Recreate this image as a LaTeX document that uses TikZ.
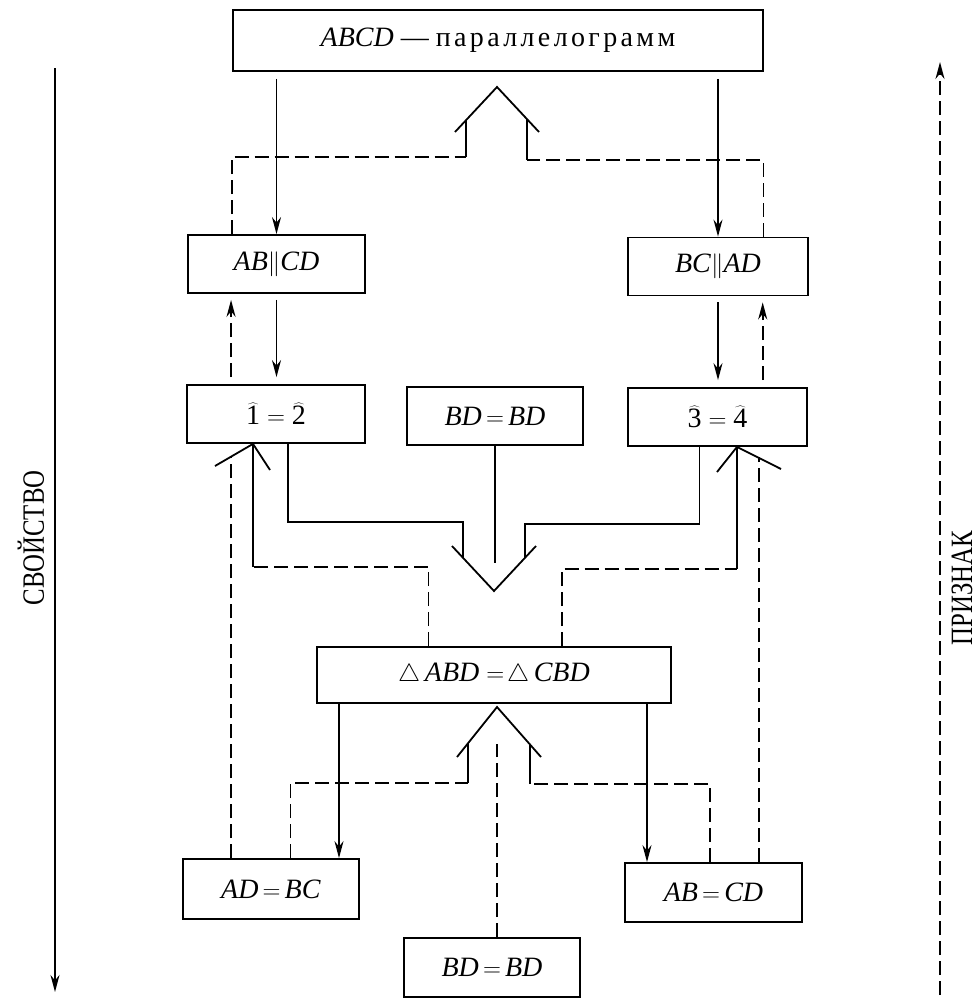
\documentclass[tikz,border=0pt]{standalone}
\usepackage{fontspec}
\setmainfont{Liberation Serif}
\newfontfamily\spaced[LetterSpace=12]{Liberation Serif}
\usetikzlibrary{arrows.meta,calc}

\newcommand{\vr}[1]{\textit{#1}}
\newcommand{\ang}[1]{\widehat{\mbox{#1}}}

\begin{document}
\begin{tikzpicture}[
  x=1pt,y=-1pt,
  line width=1.8pt,
  font=\fontsize{28}{32}\selectfont,
  box/.style={draw,rectangle,minimum height=58pt,inner sep=0pt},
  prop/.style={-{Stealth[length=17pt,width=9pt]}},
  crit/.style={dash pattern=on 14pt off 6pt},
  critarr/.style={crit,-{Stealth[length=17pt,width=9pt]}},
  side/.style={font=\fontsize{31}{31}\selectfont}
]
  \useasboundingbox (0,0) rectangle (978,999);

  % boxes
  \node[box,minimum width=530pt,minimum height=61pt] (par) at (498,40.5) {\vr{ABCD} — {\spaced параллелограмм}};
  \node[box,minimum width=177pt] (ab) at (276.5,264) {\vr{AB}$\|$\vr{CD}};
  \node[box,minimum width=180pt] (bc) at (718,266.5) {\vr{BC}$\|$\vr{AD}};
  \node[box,minimum width=178pt] (ang12) at (276,414) {$\ang{1}=\ang{2}$};
  \node[box,minimum width=176pt] (bdm) at (495,416) {\vr{BD}$\,=\,$\vr{BD}};
  \node[box,minimum width=179pt] (ang34) at (717.5,417) {$\ang{3}=\ang{4}$};
  \node[box,minimum width=354pt,minimum height=56pt] (tri) at (494,675) {$\triangle$\,\vr{ABD}$\;=\!\triangle$\,\vr{CBD}};
  \node[box,minimum width=176pt,minimum height=60pt] (adbc) at (271,889) {\vr{AD}$\,=\,$\vr{BC}};
  \node[box,minimum width=177pt,minimum height=59pt] (abcd) at (713.5,892.5) {\vr{AB}$\,=\,$\vr{CD}};
  \node[box,minimum width=176pt,minimum height=59pt] (bdb) at (492,967.5) {\vr{BD}$\,=\,$\vr{BD}};

  % side labels
  \coordinate (s1) at (55,68);
  \coordinate (s2) at (55,992);
  \coordinate (c1) at (940,995);
  \coordinate (c2) at (940,62);
  \draw[prop] (s1) -- (s2);
  \draw[critarr] (c1) -- (c2);
  \node[side,rotate=90] (prp) at (31,538) {\scalebox{0.8}[1]{СВОЙСТВО}};
  \node[side,rotate=90] (crt) at (962,588) {\scalebox{0.8}[1]{ПРИЗНАК}};

  % property: downward
  \draw[prop,shorten <=7pt] (par.south -| ab.north) -- (ab.north);
  \draw[prop,shorten <=7pt] (par.south -| bc.north) -- (bc.north);
  \draw[prop,shorten <=6pt,shorten >=7pt] (ab.south) -- (ab.south |- ang12.north);
  \draw[prop,shorten <=6pt,shorten >=7pt] (bc.south) -- (bc.south |- ang34.north);
  \coordinate (mv) at (494,591);
  \draw (452,546) -- (mv) -- (536,546);
  \coordinate (ml) at (463,558);
  \coordinate (mr) at (525,558);
  \draw ([xshift=12pt]ang12.south) |- (ml |- 0,522) -- (ml);
  \draw ([xshift=-18pt]ang34.south) |- (mr |- 0,524) -- (mr);
  \draw (bdm.south) -- ++(0,117);
  \coordinate (t1) at ([xshift=-155pt]tri.south);
  \coordinate (t2) at ([xshift=153pt]tri.south);
  \draw[prop] (t1) -- (t1 |- adbc.north);
  \draw[prop] (t2) -- (t2 |- abcd.north);

  % criterion: upward
  \coordinate (bv) at (497,707);
  \draw (457,757) -- (bv) -- (541,757);
  \coordinate (bl) at (468,744);
  \coordinate (br) at (530,744);
  \draw[crit] ($(adbc.north west)!.61!(adbc.north east)$) |- (bl |- 0,783);
  \draw (bl |- 0,783) -- (bl);
  \draw[crit] ($(abcd.north west)!.48!(abcd.north east)$) |- (br |- 0,784);
  \draw (br |- 0,784) -- (br);
  \draw[crit] ([xshift=5pt]bdb.north) -- ++(0,-193);

  \coordinate (lv) at ([xshift=-23pt]ang12.south);
  \coordinate (rv) at ([xshift=19.5pt]ang34.south);
  \draw (215,466) -- (lv) -- (270,470);
  \draw (717,472) -- (rv) -- (781,469);
  \draw[crit] ($(tri.north west)!.316!(tri.north east)$) |- (lv |- 0,567);
  \draw (lv |- 0,567) -- (lv);
  \draw[crit] ($(tri.north west)!.69!(tri.north east)$) |- (rv |- 0,569);
  \draw (rv |- 0,569) -- (rv);
  \coordinate (lw) at (231,456);
  \coordinate (rw) at (759,457);
  \draw[crit] (lw |- adbc.north) -- (lw);
  \draw[crit] (rw |- abcd.north) -- (rw);

  \coordinate (q1) at ($(ang12.north west)!.25!(ang12.north east)$);
  \coordinate (q2) at ($(ang34.north west)!.75!(ang34.north east)$);
  \draw[critarr,shorten <=7pt,shorten >=6pt] (q1) -- (q1 |- ab.south);
  \draw[critarr,shorten <=7pt,shorten >=6pt] (q2) -- (q2 |- bc.south);

  \coordinate (pv) at (497,87);
  \draw (455,132) -- (pv) -- (539,132);
  \coordinate (pl) at (466,120);
  \coordinate (pr) at (527,119);
  \draw[crit] ($(ab.north west)!.25!(ab.north east)$) |- (pl |- 0,157);
  \draw (pl |- 0,157) -- (pl);
  \draw[crit] ($(bc.north west)!.75!(bc.north east)$) |- (pr |- 0,160);
  \draw (pr |- 0,160) -- (pr);
\end{tikzpicture}
\end{document}
